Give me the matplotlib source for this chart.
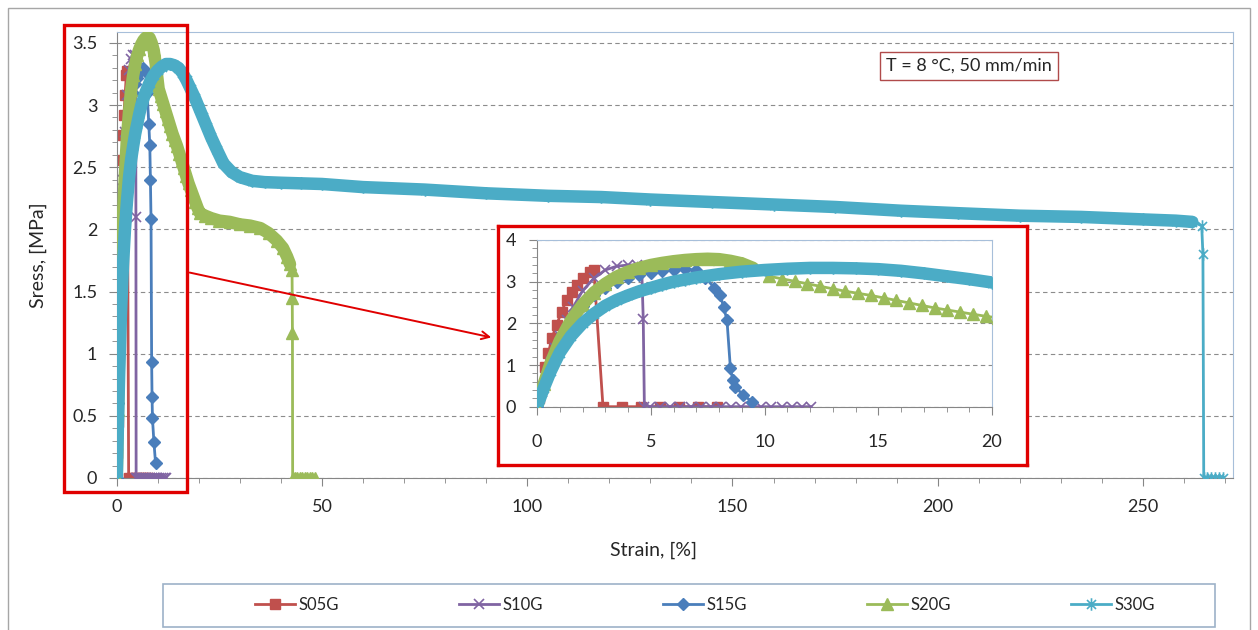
import matplotlib
matplotlib.use("Agg")
import matplotlib.pyplot as plt
from matplotlib.patches import Rectangle, FancyArrowPatch
from matplotlib.lines import Line2D
from matplotlib.path import Path
from matplotlib.ticker import MultipleLocator, FuncFormatter

plt.rcParams['font.family'] = ['Lato', 'DejaVu Sans']

# data (strain in %, stress in MPa)
s05g_x = [0, 0.1, 0.2, 0.35, 0.5, 0.65, 0.86, 1.08, 1.3, 1.52, 1.74, 2.04, 2.33, 2.5, 2.9,
          3.74, 4.57, 5.40, 6.24, 7.08, 7.91]
s05g_y = [0, 0.2, 0.45, 0.96, 1.28, 1.64, 1.96, 2.28, 2.56, 2.76, 2.92, 3.08, 3.24, 3.27, 0,
          0, 0, 0, 0, 0, 0]

s10g_x = [0, 0.2, 0.4, 0.6, 0.8, 1.0, 1.3, 1.6, 2.0, 2.5, 3.0, 3.5, 4.0, 4.4, 4.6, 4.67, 4.72,
          4.97, 5.42, 5.86, 6.3, 6.75, 7.2, 7.64, 8.08, 8.53, 8.97, 9.42, 9.86, 10.3, 10.75,
          11.2, 11.64, 12.05]
s10g_y = [0, 0.35, 0.72, 1.08, 1.4, 1.7, 2.08, 2.4, 2.78, 3.08, 3.28, 3.37, 3.4, 3.4, 3.36, 2.1, 0,
          0, 0, 0, 0, 0, 0, 0, 0, 0, 0, 0, 0, 0, 0,
          0, 0, 0]

s15g_x = [0, 0.3, 0.6, 1.0, 1.5, 2.0, 2.5, 3.0, 3.5, 4.0, 4.5, 5.0, 5.5, 6.0, 6.5, 7.0, 7.4,
          7.8, 8.05, 8.2, 8.35, 8.5, 8.6, 8.7, 9.05, 9.45]
s15g_y = [0, 0.6, 1.12, 1.62, 2.08, 2.42, 2.67, 2.86, 3.0, 3.1, 3.17, 3.22, 3.26, 3.29, 3.3, 3.27, 3.1,
          2.85, 2.68, 2.4, 2.08, 0.93, 0.65, 0.48, 0.29, 0.12]

s20g_x = [0, 0.3, 0.6, 1.0, 1.5, 2.0, 2.5, 3.0, 3.5, 4.0, 4.5, 5.0, 5.5, 6.0, 6.5, 7.0, 7.5,
          8.0, 8.5, 9.0, 9.5, 10.2, 10.76, 11.32, 11.88, 12.44, 13.0, 13.56, 14.12, 14.68,
          15.24, 15.8, 16.36, 16.92, 17.48, 18.04, 18.6, 19.16, 19.72, 20.28, 21.5, 23, 25,
          27.5, 30, 32.5, 35, 37, 39, 40.5, 41.5, 42.2, 42.7, 42.75, 42.8, 42.85,
          43.4, 44.0, 44.6, 45.2, 45.8, 46.4, 47.0, 47.6, 48.2]
s20g_y = [0, 0.55, 1.05, 1.58, 2.08, 2.45, 2.74, 2.95, 3.12, 3.24, 3.33, 3.4, 3.45, 3.49, 3.52, 3.54, 3.55,
          3.54, 3.5, 3.44, 3.33, 3.13, 3.07, 3.01, 2.95, 2.89, 2.83, 2.77, 2.72, 2.67,
          2.61, 2.55, 2.49, 2.43, 2.37, 2.32, 2.27, 2.22, 2.17, 2.13, 2.11, 2.09, 2.07,
          2.06, 2.04, 2.03, 2.01, 1.97, 1.91, 1.85, 1.78, 1.72, 1.67, 1.45, 1.17, 0,
          0, 0, 0, 0, 0, 0, 0, 0, 0]

s30g_x = [0, 0.3, 0.6, 1.0, 1.5, 2.0, 2.5, 3.0, 3.5, 4.0, 4.5, 5.0, 5.5, 6.0, 6.5, 7.0, 7.5,
          8.0, 9.0, 10, 11, 12, 13, 14, 15, 16, 17, 18, 19, 20, 21, 22, 23, 24.4, 26, 28,
          30, 33, 36, 40, 45, 50, 60, 75, 90, 105, 118, 130, 145, 160, 175, 191, 205,
          220, 235, 250, 258, 262, 264.3, 264.6, 264.8, 265.5, 266.5, 267.5, 268.5, 269.5]
s30g_y = [0, 0.45, 0.85, 1.3, 1.7, 2.0, 2.23, 2.42, 2.56, 2.67, 2.77, 2.85, 2.93, 3.0, 3.05, 3.1, 3.14,
          3.18, 3.24, 3.28, 3.31, 3.33, 3.33, 3.32, 3.3, 3.26, 3.2, 3.13, 3.06, 2.98, 2.9, 2.82, 2.74, 2.64, 2.53, 2.46,
          2.42, 2.39, 2.38, 2.375, 2.37, 2.365, 2.34, 2.32, 2.29, 2.27, 2.26, 2.24, 2.22, 2.2, 2.18, 2.15, 2.13,
          2.11, 2.1, 2.08, 2.07, 2.06, 2.03, 1.8, 0, 0, 0, 0, 0, 0]

labels = ["S05G", "S10G", "S15G", "S20G", "S30G"]

# excel-like asterisk marker: vertical bar plus an x
star = Path([(0, -1), (0, 1), (-0.72, -0.72), (0.72, 0.72), (-0.72, 0.72), (0.72, -0.72)],
            [Path.MOVETO, Path.LINETO, Path.MOVETO, Path.LINETO, Path.MOVETO, Path.LINETO])

styles = [
    dict(color='#C0504D', marker='s', ms=7),
    dict(color='#8064A2', marker='x', ms=7.5, mew=1.2),
    dict(color='#4A7EBB', marker='D', ms=6.5),
    dict(color='#9BBB59', marker='^', ms=8),
    dict(color='#4BACC6', marker=star, ms=9, mew=1.2),
]
series = [(s05g_x, s05g_y), (s10g_x, s10g_y), (s15g_x, s15g_y), (s20g_x, s20g_y), (s30g_x, s30g_y)]

W, H = 1258, 630


def box(x0, y0, x1, y1):
    return [x0 / W, 1 - y1 / H, (x1 - x0) / W, (y1 - y0) / H]


def style_axes(ax, xmaj, xmin, ymaj, ymin):
    ax.xaxis.set_major_locator(MultipleLocator(xmaj))
    ax.xaxis.set_minor_locator(MultipleLocator(xmin))
    ax.yaxis.set_major_locator(MultipleLocator(ymaj))
    ax.yaxis.set_minor_locator(MultipleLocator(ymin))
    fmt = FuncFormatter(lambda v, p: '{:g}'.format(round(v, 3)))
    ax.xaxis.set_major_formatter(fmt)
    ax.yaxis.set_major_formatter(fmt)
    for s in ['left', 'bottom']:
        ax.spines[s].set_color('#868686')
    for s in ['top', 'right']:
        ax.spines[s].set_color('#A7BFDA')
    ax.tick_params(which='major', length=6, color='#868686', labelsize=13, labelcolor='#262626')
    ax.tick_params(which='minor', length=3.5, color='#868686')
    ax.yaxis.grid(True, linestyle=(0, (4, 3)), color='#8C8C8C', lw=0.8)
    ax.set_axisbelow(True)


def draw(ax, bands):
    for i, ((x, y), st) in enumerate(zip(series, styles)):
        if i in bands:
            n = bands[i]
            ax.plot(x[:n], y[:n], color=st['color'], lw=9, solid_capstyle='round',
                    solid_joinstyle='round', zorder=2 + i)
        ax.plot(x, y, color=st['color'], lw=2, marker=st['marker'], ms=st['ms'],
                mew=st.get('mew', 1), mec=st['color'], mfc=st['color'], zorder=2 + i)


fig = plt.figure(figsize=(12.58, 6.30), dpi=100)
fig.patch.set_facecolor('white')

# main chart
ax = fig.add_axes(box(116.75, 31.7, 1233.3, 478))
ax.set_xlim(0, 272)
ax.set_ylim(0, 3.59)
style_axes(ax, 50, 10, 0.5, 0.1)
ax.tick_params(axis='x', pad=9)
ax.tick_params(axis='y', pad=8)
draw(ax, {3: s20g_x.index(42.7), 4: s30g_x.index(264.3)})

fig.text(38 / W, 1 - 255 / H, "Sress, [MPa]", rotation=90, ha='center', va='center',
         fontsize=14, color='#262626')
fig.text(653 / W, 1 - 550 / H, "Strain, [%]", ha='center', va='center', fontsize=14, color='#262626')

fig.text(969 / W, 1 - 66 / H, "T = 8 °C, 50 mm/min", ha='center', va='center', fontsize=13,
         color='#262626', bbox=dict(boxstyle='square,pad=0.35', fc='white', ec='#B04A4A', lw=1))

# inset frame and zoomed view
frame = fig.add_axes(box(498, 226, 1027, 465))
frame.set_xticks([])
frame.set_yticks([])
frame.set_facecolor('white')
for s in frame.spines.values():
    s.set_color('#E00000')
    s.set_linewidth(2.4)

ia = fig.add_axes(box(537, 240, 992, 406.7))
ia.set_xlim(0, 20)
ia.set_ylim(0, 4)
style_axes(ia, 5, 1, 1, 0.2)
ia.tick_params(axis='x', pad=14)
ia.tick_params(axis='y', pad=9)
draw(ia, {3: s20g_x.index(9.5) + 1, 4: s30g_x.index(20) + 1})

# highlight box on the main chart and the arrow to the inset
fig.patches.append(Rectangle((64 / W, 1 - 492 / H), 123 / W, 467 / H, transform=fig.transFigure,
                             fill=False, ec='#E00000', lw=2.4, zorder=5))
fig.patches.append(FancyArrowPatch((187 / W, 1 - 272 / H), (494 / W, 1 - 338 / H),
                                   transform=fig.transFigure, arrowstyle='->', mutation_scale=14,
                                   color='#E00000', lw=1.4, zorder=5))

# outer chart border and legend box
fig.patches.append(Rectangle((8 / W, -0.05), 1242 / W, 1 - 8 / H + 0.05, transform=fig.transFigure,
                             fill=False, ec='#A6A6A6', lw=1, zorder=0))
fig.patches.append(Rectangle((163 / W, 1 - 627 / H), 1052 / W, 43 / H, transform=fig.transFigure,
                             fill=False, ec='#9DB2C8', lw=1.2, zorder=0))

handles = [Line2D([], [], color=st['color'], lw=2, marker=st['marker'], ms=st['ms'],
                  mew=st.get('mew', 1), mec=st['color'], mfc=st['color']) for st in styles]
fig.legend(handles, labels, loc='center', bbox_to_anchor=(705 / W, 1 - 605 / H), ncol=5,
           frameon=False, fontsize=12, handlelength=2.4, handletextpad=0.2, columnspacing=7.2,
           labelcolor='#262626')

fig.savefig('out.png', dpi=100)
